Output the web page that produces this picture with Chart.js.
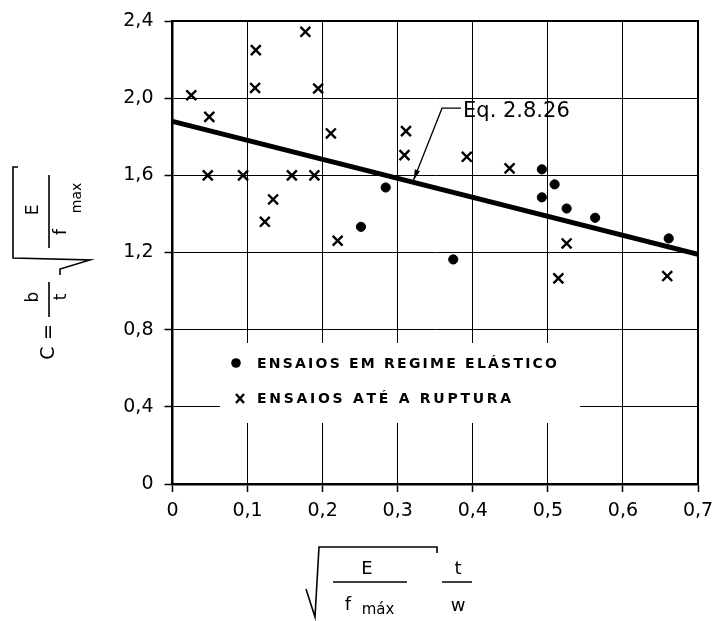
<!DOCTYPE html>
<html>
<head>
<meta charset="utf-8">
<script src="https://cdn.jsdelivr.net/npm/chart.js@4.4.0/dist/chart.umd.min.js"></script>
<style>
  html, body { margin: 0; padding: 0; background: #fff; }
  #wrap { width: 716px; height: 621px; }
</style>
</head>
<body>
<div id="wrap"><canvas id="chart"></canvas></div>
<script>
// ── values ───────────────────────────────────────────────────────────────────
const elasticX = [0.251, 0.284, 0.374, 0.492, 0.492, 0.509, 0.525, 0.563, 0.661];
const elasticY = [1.333, 1.537, 1.164, 1.631, 1.486, 1.553, 1.428, 1.380, 1.273];

const ruptureX = [0.025, 0.049, 0.047, 0.094, 0.110, 0.111, 0.123, 0.134, 0.159, 0.177, 0.189,
                  0.194, 0.211, 0.220, 0.309, 0.311, 0.392, 0.449, 0.514, 0.525, 0.659];
const ruptureY = [2.015, 1.903, 1.600, 1.600, 2.053, 2.249, 1.359, 1.475, 1.600, 2.344, 1.600,
                  2.050, 1.817, 1.261, 1.705, 1.829, 1.696, 1.636, 1.066, 1.247, 1.078];

const fitX = [0, 0.7];
const fitY = [1.88, 1.19];

const xTicks = [0, 0.1, 0.2, 0.3, 0.4, 0.5, 0.6, 0.7];
const yTicks = [0, 0.4, 0.8, 1.2, 1.6, 2.0, 2.4];

const legendLabels = ['ENSAIOS EM REGIME ELÁSTICO', 'ENSAIOS ATÉ A RUPTURA'];
const eqText  = 'Eq. 2.8.26';
const eqText_at = [0.387, 1.929];   // where the label starts
const eqLeader  = [0.359, 1.948];   // elbow of the leader
const eqTip     = [0.321, 1.575];   // arrow tip on the line

const FONT = '"DejaVu Sans", sans-serif';
const fmtTick = v => v === 0 ? '0' : v.toFixed(1).replace('.', ',');
const pts = (xs, ys) => xs.map((x, i) => ({ x, y: ys[i] }));

// ── hand-drawn bits: legend box, annotation, axis titles, frame ─────────────
function spaced(ctx, text, x, y, width) {
  const plain = ctx.measureText(text).width;
  const gap = (width - plain) / (text.length - 1);
  let cx = x;
  for (const ch of text) { ctx.fillText(ch, cx, y); cx += ctx.measureText(ch).width + gap; }
}

const decor = {
  id: 'decor',
  beforeDatasetsDraw(chart) {
    const { ctx } = chart;
    ctx.save();
    ctx.fillStyle = '#fff';
    ctx.fillRect(220, 343, 360, 80);   // legend sits in a gap of the grid
    ctx.restore();
  },
  afterDatasetsDraw(chart) {
    const { ctx, chartArea: a, scales: { x, y } } = chart;
    ctx.save();
    ctx.strokeStyle = '#000'; ctx.fillStyle = '#000';

    // frame top / right
    ctx.lineWidth = 2;
    ctx.beginPath();
    ctx.moveTo(a.left, a.top); ctx.lineTo(a.right, a.top); ctx.lineTo(a.right, a.bottom);
    ctx.stroke();

    // legend
    ctx.beginPath(); ctx.arc(236, 363, 4.8, 0, Math.PI * 2); ctx.fill();
    ctx.lineWidth = 2.4;
    ctx.beginPath();
    ctx.moveTo(236, 394); ctx.lineTo(244, 403); ctx.moveTo(244, 394); ctx.lineTo(236, 403);
    ctx.stroke();
    ctx.font = 'bold 14px ' + FONT;
    ctx.textBaseline = 'middle'; ctx.textAlign = 'left';
    spaced(ctx, legendLabels[0], 257, 364, 300);
    spaced(ctx, legendLabels[1], 257, 399, 253);

    // equation label with leader arrow
    const lx = x.getPixelForValue(eqLeader[0]), ly = y.getPixelForValue(eqLeader[1]);
    const tx = x.getPixelForValue(eqTip[0]),    ty = y.getPixelForValue(eqTip[1]);
    const sx = x.getPixelForValue(eqText_at[0]), sy = y.getPixelForValue(eqText_at[1]);
    ctx.lineWidth = 1.3;
    ctx.beginPath(); ctx.moveTo(sx - 2, ly); ctx.lineTo(lx, ly); ctx.lineTo(tx, ty); ctx.stroke();
    const ang = Math.atan2(ty - ly, tx - lx);
    ctx.beginPath();
    ctx.moveTo(tx, ty);
    ctx.lineTo(tx - 11 * Math.cos(ang - 0.25), ty - 11 * Math.sin(ang - 0.25));
    ctx.lineTo(tx - 11 * Math.cos(ang + 0.25), ty - 11 * Math.sin(ang + 0.25));
    ctx.closePath(); ctx.fill();
    ctx.font = '21px ' + FONT;
    ctx.fillText(eqText, sx, sy);

    // x-axis title: sqrt(E / f_max) · t / w
    ctx.lineWidth = 1.6;
    ctx.beginPath();
    ctx.moveTo(306, 589); ctx.lineTo(315, 617); ctx.lineTo(319, 547);
    ctx.lineTo(437, 547); ctx.lineTo(437, 553);
    ctx.moveTo(333, 582); ctx.lineTo(407, 582);
    ctx.moveTo(442, 582); ctx.lineTo(472, 582);
    ctx.stroke();
    ctx.textAlign = 'center';
    ctx.font = '18px ' + FONT;
    ctx.fillText('E', 367, 569);
    ctx.fillText('f', 348, 605);
    ctx.fillText('t', 458, 569);
    ctx.fillText('w', 458, 606);
    ctx.font = '15px ' + FONT;
    ctx.fillText('máx', 378, 610);

    // y-axis title: C = b/t sqrt(E / f_max), written bottom to top
    ctx.translate(48, 360);
    ctx.rotate(-Math.PI / 2);
    ctx.beginPath();
    ctx.moveTo(85, 12); ctx.lineTo(91, 12); ctx.lineTo(100, 42);
    ctx.lineTo(102, -35); ctx.lineTo(193, -35); ctx.lineTo(193, -30);
    ctx.moveTo(43, 1); ctx.lineTo(78, 1);
    ctx.moveTo(112, 1); ctx.lineTo(185, 1);
    ctx.stroke();
    ctx.font = '19px ' + FONT;
    ctx.fillText('C', 7, 1);
    ctx.fillText('=', 28, 1);
    ctx.font = '17px ' + FONT;
    ctx.fillText('b', 63, -14);
    ctx.fillText('t', 63, 14);
    ctx.fillText('E', 150, -14);
    ctx.fillText('f', 128, 14);
    ctx.font = '14px ' + FONT;
    ctx.fillText('max', 162, 29);

    ctx.restore();
  }
};

new Chart(document.getElementById('chart'), {
  type: 'scatter',
  data: {
    datasets: [
      { label: 'fit', type: 'line', data: pts(fitX, fitY), borderColor: '#000', borderWidth: 5,
        pointRadius: 0, fill: false, order: 3 },
      { label: legendLabels[0], data: pts(elasticX, elasticY), pointStyle: 'circle',
        pointRadius: 4.6, backgroundColor: '#000', borderColor: '#000', borderWidth: 1 },
      { label: legendLabels[1], data: pts(ruptureX, ruptureY), pointStyle: 'crossRot',
        pointRadius: 7, borderColor: '#000', borderWidth: 2.4 }
    ]
  },
  options: {
    responsive: true, maintainAspectRatio: false, animation: false,
    layout: { padding: { top: 21, right: 18, left: 0, bottom: 0 }, autoPadding: false },
    plugins: { legend: { display: false }, tooltip: { enabled: false } },
    scales: {
      x: {
        type: 'linear', min: 0, max: 0.7,
        afterBuildTicks: s => { s.ticks = xTicks.map(v => ({ value: v })); },
        afterFit: s => { s.height = 137; s.paddingLeft = 0; s.paddingRight = 0; },
        grid: { color: '#000', lineWidth: 1, tickLength: 8, tickColor: '#000', tickWidth: 1.5 },
        border: { display: true, color: '#000', width: 2.5 },
        ticks: { callback: fmtTick, color: '#000', padding: 8, maxRotation: 0,
                 font: { family: FONT, size: 19 } }
      },
      y: {
        type: 'linear', min: 0, max: 2.4,
        afterBuildTicks: s => { s.ticks = yTicks.map(v => ({ value: v })); },
        afterFit: s => { s.width = 172.5; s.paddingTop = 0; s.paddingBottom = 0; },
        grid: { color: '#000', lineWidth: 1, tickLength: 8, tickColor: '#000', tickWidth: 1.5 },
        border: { display: true, color: '#000', width: 2.5 },
        ticks: { callback: fmtTick, color: '#000', padding: 11,
                 font: { family: FONT, size: 19 } }
      }
    }
  },
  plugins: [decor]
});
</script>
</body>
</html>
